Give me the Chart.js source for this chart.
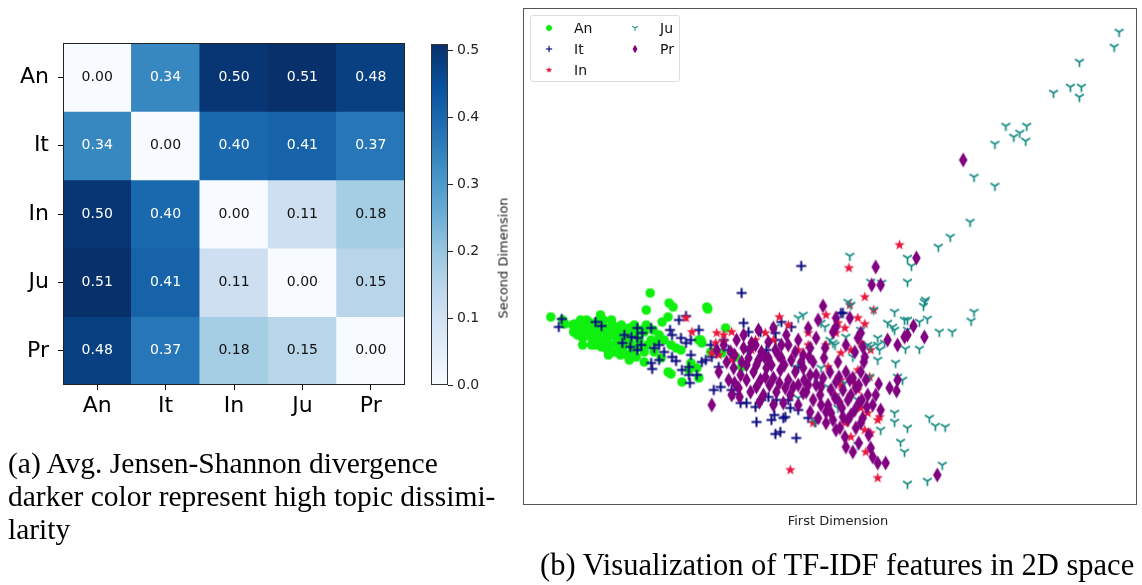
<!DOCTYPE html>
<html>
<head>
<meta charset="utf-8">
<script src="https://cdn.jsdelivr.net/npm/chart.js@4.4.1/dist/chart.umd.min.js"></script>
<style>
  body { margin: 0; background: #fff; }
  #page { position: relative; width: 1142px; height: 585px; overflow: hidden; font-family: 'DejaVu Sans', sans-serif; }
  #page canvas.chart { position: absolute; }
  .cap { position: absolute; font-family: 'Liberation Serif', 'Times New Roman', serif; line-height: 33px; color: #000; white-space: nowrap; }
  .axis-title { position: absolute; font-size: 13px; color: #222; white-space: nowrap; }
  #legend { position: absolute; left: 530px; top: 15px; width: 150px; height: 67px; border: 1px solid #dcdcdc; border-radius: 3px; box-sizing: border-box; background: rgba(255,255,255,0.85); }
  #legend .item { position: absolute; font-size: 14px; color: #111; line-height: 16px; }
  #legend canvas { position: absolute; }
</style>
</head>
<body>
<div id="page">
  <canvas id="heatmap" class="chart" width="425" height="430" style="left:0;top:0"></canvas>
  <canvas id="colorbar" class="chart" width="80" height="430" style="left:425px;top:0"></canvas>
  <canvas id="scatter" class="chart" width="662" height="540" style="left:480px;top:0"></canvas>

  <div class="axis-title" style="left:503px;top:258px;transform:translate(-50%,-50%) rotate(-90deg)">Second Dimension</div>
  <div class="axis-title" style="left:838px;top:520px;transform:translate(-50%,-50%)">First Dimension</div>
  <div id="legend"></div>

  <div class="cap" style="left:8px;top:447px;font-size:29.5px">(a) Avg. Jensen-Shannon divergence<br>darker color represent high topic dissimi-<br>larity</div>
  <div class="cap" style="left:540px;top:549px;font-size:30.5px">(b) Visualization of TF-IDF features in 2D space</div>
</div>
<script>
// ---- data ----
const topics = ['An', 'It', 'In', 'Ju', 'Pr'];

// average Jensen-Shannon divergence, one row per topic
const jsdAn = [0.00, 0.34, 0.50, 0.51, 0.48];
const jsdIt = [0.34, 0.00, 0.40, 0.41, 0.37];
const jsdIn = [0.50, 0.40, 0.00, 0.11, 0.18];
const jsdJu = [0.51, 0.41, 0.11, 0.00, 0.15];
const jsdPr = [0.48, 0.37, 0.18, 0.15, 0.00];
const jsdRows = [jsdAn, jsdIt, jsdIn, jsdJu, jsdPr];

const cbarMax = 0.51;
const cbarTicks = [0.0, 0.1, 0.2, 0.3, 0.4, 0.5];

// TF-IDF 2D projection, [first dimension, second dimension]
const anPoints = [
  [28,188],[40,185],[42,181],[52,181],[52,173],[64,185],[50,180],[51,173],[60,167],
  [65,178],[72,173],[79,180],[85,177],[92,178],[99,180],[102,175],[69,167],[75,170],
  [82,165],[89,170],[95,167],[79,158],[87,160],[92,153],[104,162],[105,168],[110,155],
  [100,155],[69,160],[84,172],[74,183],[89,185],[97,173],[62,175],[107,177],[77,175],
  [117,165],[113,172],[122,173],[129,165],[137,170],[122,153],[132,153],[107,145],
  [122,143],[139,147],[146,133],[149,131],[160,123],[175,137],[149,160],[154,157],
  [159,155],[169,142],[179,165],[189,153],[128,212],[147,202],[151,198],[124,195],
  [185,198],[186,196],[146,188],[140,183],[167,135],[177,165],[204,177],[220,138],
  [180,162],[200,152],[214,148],[177,127],[94,162],[58,178],[114,148],[86,150],
  [58,185],[66,170],[71,178],[76,165],[81,185],[86,168],[90,180],[96,160],[101,168],
  [108,162],[112,180],[118,175],[124,180],[131,175],[60,160],[73,160],[85,155],
  [98,150],[105,150],[116,158],[125,160],[133,163],[142,165],[66,183],[55,170],[78,190]
];
const itPoints = [
  [39,186],[36,178],[73,183],[79,179],[115,177],[129,177],[157,185],[164,189],
  [102,170],[109,168],[115,167],[120,172],[100,162],[108,158],[115,155],[119,160],
  [132,157],[137,160],[142,153],[148,175],[150,170],[159,167],[164,162],[169,165],
  [177,175],[129,142],[130,136],[137,145],[150,148],[154,144],[160,135],[169,150],
  [167,138],[167,130],[168,122],[175,130],[180,143],[192,115],[199,118],[222,182],
  [227,173],[239,173],[254,172],[260,183],[270,178],[320,192],[210,115],[212,111],
  [219,102],[225,102],[234,98],[240,105],[247,108],[235,83],[250,85],[253,90],
  [262,87],[264,88],[254,71],[259,73],[275,67],[255,105],[267,105],[269,97],
  [277,95],[287,87],[294,83],[190,148],[184,145],[197,138],[245,155],[254,165],
  [277,138],[280,239],[220,212],[322,192],[189,160],[207,155],[202,165]
];
const inPoints = [
  [379,260],[328,237],[344,208],[353,195],[329,200],[305,190],[258,188],[267,180],
  [195,172],[202,170],[210,173],[194,162],[202,163],[190,152],[197,150],[230,155],
  [244,172],[252,165],[287,172],[317,182],[324,177],[337,187],[344,181],[315,172],
  [330,155],[320,152],[337,135],[320,125],[307,138],[349,128],[337,115],[359,88],
  [344,75],[350,72],[345,53],[269,35],[357,27],[287,160],[277,155],[305,160],
  [210,145],[164,187],[170,173],[234,165],[320,120],[314,110],[340,97],[357,85],
  [330,68],[292,82],[324,82],[340,162],[350,155],[334,122],[347,92]
];
const juPoints = [
  [600,473],[595,458],[560,443],[534,412],[551,418],[562,418],[560,408],[486,379],
  [507,379],[494,368],[500,372],[506,364],[475,361],[454,328],[475,319],[450,283],
  [430,268],[418,258],[387,247],[391,239],[387,223],[329,249],[405,205],[403,199],
  [374,193],[353,195],[350,223],[361,222],[327,203],[330,200],[387,185],[282,190],
  [277,187],[300,182],[309,165],[314,160],[340,175],[347,160],[350,158],[357,160],
  [367,182],[374,175],[387,175],[332,148],[357,145],[364,162],[375,142],[377,128],
  [349,128],[297,122],[307,118],[314,108],[274,138],[317,97],[374,92],[374,83],
  [360,75],[337,60],[387,77],[380,63],[384,53],[387,21],[294,83],[224,157],
  [254,178],[454,193],[451,184],[419,173],[432,173],[407,186],[399,183],[404,203],
  [382,125],[409,87],[415,79],[425,78],[422,40],[407,24],[357,167],[385,156],
  [399,156],[384,185],[372,178],[304,178],[312,162],[325,168],[359,155],[300,137],
  [337,105],[277,107],[324,122]
];
const prPoints = [
  [202,160],[209,153],[215,165],[222,157],[227,147],[234,160],[240,153],[247,163],
  [254,155],[260,147],[267,160],[274,153],[205,143],[212,137],[219,130],[225,140],
  [232,133],[239,125],[245,137],[252,127],[259,135],[267,125],[274,133],[207,125],
  [217,117],[229,113],[242,110],[255,113],[264,117],[222,170],[237,175],[252,177],
  [265,170],[277,165],[282,150],[289,157],[195,155],[197,133],[237,145],[247,147],
  [210,110],[269,110],[277,120],[252,100],[190,100],
  [282,137],[289,130],[295,120],[302,127],[309,133],[315,123],[322,115],[329,125],
  [335,117],[285,113],[292,105],[299,110],[307,100],[314,107],[321,97],[327,105],
  [334,95],[341,105],[289,93],[297,87],[305,93],[312,85],[319,77],[327,85],
  [335,77],[342,87],[347,110],[277,100],[283,125],[303,147],[317,143],[292,143],
  [287,177],[295,167],[302,199],[312,173],[329,187],[340,172],[325,160],[334,153],
  [315,187],[297,185],[343,143],[304,157],
  [324,68],[325,58],[332,53],[352,48],[357,42],[365,42],[350,57],[369,117],
  [376,114],[358,121],[377,125],[340,133],[342,158],[367,165],[377,160],[384,168],
  [387,170],[393,179],[404,168],[417,30],[443,345],[396,247],[355,238],[351,220],
  [360,220],[315,178],[337,167],[344,148],
  [213,150],[220,143],[228,155],[235,140],[243,148],[250,140],[257,150],[263,140],
  [270,145],[280,143],[288,148],[213,122],[225,125],[235,118],[248,120],[258,122],
  [272,118],[282,112],[230,162],[260,160],[244,128],[218,108],[238,103],[262,102],
  [295,130],[300,118],[310,115],[318,128],[325,133],[332,127],[338,120],[345,125],
  [300,100],[310,92],[318,103],[330,110],[338,102],[346,98],[352,100],[305,82],
  [315,75],[322,88],[340,82],[330,90],[348,70],[338,62],[355,110],[360,95],[287,120]
];

// ---- colours ----
const bluesStops = ['#f7fbff', '#deebf7', '#c6dbef', '#9ecae1', '#6baed6', '#4292c6', '#2171b5', '#08519c', '#08306b'];

function hexRgb(h) {
  return [1, 3, 5].map(i => parseInt(h.slice(i, i + 2), 16));
}

function blues(t) {
  t = Math.max(0, Math.min(1, t));
  const p = t * 8;
  const i = Math.min(7, Math.floor(p));
  const f = p - i;
  const a = hexRgb(bluesStops[i]), b = hexRgb(bluesStops[i + 1]);
  const c = a.map((v, k) => Math.round(v + (b[k] - v) * f));
  return `rgb(${c[0]},${c[1]},${c[2]})`;
}

// small marker images, same look as the matplotlib markers
function makeMarker(kind) {
  const c = document.createElement('canvas');
  const w = kind === 'diamond' ? 11 : 13;
  const h = kind === 'diamond' ? 17 : 13;
  c.width = w; c.height = h;
  const g = c.getContext('2d');
  const cx = w / 2, cy = h / 2;
  if (kind === 'circle') {
    g.fillStyle = '#10f010';
    g.beginPath(); g.arc(cx, cy, 4.8, 0, Math.PI * 2); g.fill();
  } else if (kind === 'plus') {
    g.strokeStyle = '#0c0c80'; g.lineWidth = 2;
    g.beginPath();
    g.moveTo(cx, cy - 5); g.lineTo(cx, cy + 5);
    g.moveTo(cx - 5, cy); g.lineTo(cx + 5, cy);
    g.stroke();
  } else if (kind === 'star') {
    g.fillStyle = '#e8183e';
    g.beginPath();
    for (let k = 0; k < 10; k++) {
      const r = k % 2 === 0 ? 5.5 : 2.3;
      const a = -Math.PI / 2 + k * Math.PI / 5;
      g.lineTo(cx + r * Math.cos(a), cy + r * Math.sin(a));
    }
    g.closePath(); g.fill();
  } else if (kind === 'tri') {
    g.strokeStyle = '#138a82'; g.lineWidth = 1.7;
    g.beginPath();
    g.moveTo(cx, cy); g.lineTo(cx, cy + 5);
    g.moveTo(cx, cy); g.lineTo(cx - 4.4, cy - 2.8);
    g.moveTo(cx, cy); g.lineTo(cx + 4.4, cy - 2.8);
    g.stroke();
  } else if (kind === 'diamond') {
    g.fillStyle = '#800080';
    g.beginPath();
    g.moveTo(cx, cy - 7.5); g.lineTo(cx + 4.3, cy);
    g.lineTo(cx, cy + 7.5); g.lineTo(cx - 4.3, cy);
    g.closePath(); g.fill();
  }
  return c;
}

const frame = color => ({
  id: 'frame',
  afterDraw(chart) {
    const { ctx, chartArea: a } = chart;
    ctx.save();
    ctx.strokeStyle = color;
    ctx.lineWidth = 1;
    ctx.strokeRect(Math.round(a.left) + 0.5, Math.round(a.top) + 0.5, Math.round(a.right - a.left) - 1, Math.round(a.bottom - a.top) - 1);
    ctx.restore();
  }
});

// ---- heatmap (stacked bars, one cell per bar segment) ----
const cellLabels = {
  id: 'cellLabels',
  afterDatasetsDraw(chart) {
    const ctx = chart.ctx;
    ctx.save();
    ctx.font = '14px "DejaVu Sans"';
    ctx.textAlign = 'center';
    ctx.textBaseline = 'middle';
    jsdRows.forEach((row, i) => {
      chart.getDatasetMeta(i).data.forEach((bar, j) => {
        ctx.fillStyle = row[j] > cbarMax / 2 ? '#ffffff' : '#111111';
        ctx.fillText(row[j].toFixed(2), bar.x, (bar.y + bar.base) / 2);
      });
    });
    ctx.restore();
  }
};

new Chart(document.getElementById('heatmap'), {
  type: 'bar',
  data: {
    labels: topics,
    datasets: jsdRows.map((row, i) => ({
      label: topics[i],
      data: row.map(() => 1),
      backgroundColor: row.map(v => blues(v / cbarMax)),
      borderWidth: 0,
      barPercentage: 1,
      categoryPercentage: 1,
      stack: 'cells'
    }))
  },
  options: {
    responsive: false, animation: false,
    layout: { padding: { top: 43, right: 20, left: 0, bottom: 0 } },
    plugins: { legend: { display: false }, tooltip: { enabled: false } },
    scales: {
      x: {
        stacked: true,
        grid: { offset: false, drawOnChartArea: false, tickLength: 5, color: '#000' },
        border: { display: false },
        ticks: { color: '#000', font: { size: 22, family: 'DejaVu Sans' }, padding: 3 },
        afterFit: s => { s.height = 45; }
      },
      y: {
        stacked: true, reverse: true, min: 0, max: topics.length,
        afterBuildTicks: s => { s.ticks = topics.map((_, i) => ({ value: i + 0.5 })); },
        grid: { drawOnChartArea: false, tickLength: 5, color: '#000' },
        border: { display: false },
        ticks: { color: '#000', font: { size: 22, family: 'DejaVu Sans' }, padding: 9, callback: (v, i) => topics[i] },
        afterFit: s => { s.width = 63; }
      }
    }
  },
  plugins: [cellLabels, frame('#222')]
});

// ---- colour bar ----
new Chart(document.getElementById('colorbar'), {
  type: 'bar',
  data: {
    labels: [''],
    datasets: [{
      data: [[0, cbarMax]],
      backgroundColor: ctx => {
        const a = ctx.chart.chartArea;
        if (!a) return bluesStops[4];
        const g = ctx.chart.ctx.createLinearGradient(0, a.bottom, 0, a.top);
        bluesStops.forEach((c, i) => g.addColorStop(i / (bluesStops.length - 1), c));
        return g;
      },
      borderWidth: 0, barPercentage: 1, categoryPercentage: 1
    }]
  },
  options: {
    responsive: false, animation: false,
    layout: { padding: { top: 44, bottom: 45, left: 6, right: 0 } },
    plugins: { legend: { display: false }, tooltip: { enabled: false } },
    scales: {
      x: { display: false },
      y: {
        position: 'right', min: 0, max: cbarMax,
        afterBuildTicks: s => { s.ticks = cbarTicks.map(v => ({ value: v })); },
        grid: { drawOnChartArea: false, tickLength: 5, color: '#222' },
        border: { display: false },
        ticks: { color: '#222', font: { size: 14, family: 'DejaVu Sans' }, padding: 4, callback: v => v.toFixed(1) },
        afterFit: s => { s.width = 57; }
      }
    }
  },
  plugins: [frame('#333')]
});

// ---- scatter ----
const series = [
  { label: 'An', pts: anPoints, marker: 'circle' },
  { label: 'It', pts: itPoints, marker: 'plus' },
  { label: 'In', pts: inPoints, marker: 'star' },
  { label: 'Ju', pts: juPoints, marker: 'tri' },
  { label: 'Pr', pts: prPoints, marker: 'diamond' }
];

new Chart(document.getElementById('scatter'), {
  type: 'scatter',
  data: {
    datasets: series.map((s, i) => ({
      label: s.label,
      data: s.pts.map(p => ({ x: p[0], y: p[1] })),
      pointStyle: makeMarker(s.marker),
      pointRadius: 4,
      order: series.length - i
    }))
  },
  options: {
    responsive: false, animation: false,
    layout: { padding: { top: 8, right: 1, left: 0, bottom: 0 } },
    plugins: { legend: { display: false }, tooltip: { enabled: false } },
    scales: {
      x: {
        min: 0, max: 618,
        grid: { display: false }, border: { display: false }, ticks: { display: false },
        afterFit: s => { s.height = 35; }
      },
      y: {
        min: 0, max: 497,
        grid: { display: false }, border: { display: false }, ticks: { display: false },
        afterFit: s => { s.width = 43; }
      }
    }
  },
  plugins: [frame('#555')]
});

// legend laid out column-wise like matplotlib's ncol=2
const legend = document.getElementById('legend');
series.forEach((s, i) => {
  const col = Math.floor(i / 3), row = i % 3;
  const m = makeMarker(s.marker);
  m.style.left = (18 + col * 86 - m.width * 0.3) + 'px';
  m.style.top = (12 + row * 21 - m.height * 0.3) + 'px';
  m.style.width = (m.width * 0.6) + 'px';
  m.style.height = (m.height * 0.6) + 'px';
  legend.appendChild(m);
  const t = document.createElement('div');
  t.className = 'item';
  t.textContent = s.label;
  t.style.left = (43 + col * 86) + 'px';
  t.style.top = (4 + row * 21) + 'px';
  legend.appendChild(t);
});
</script>
</body>
</html>
